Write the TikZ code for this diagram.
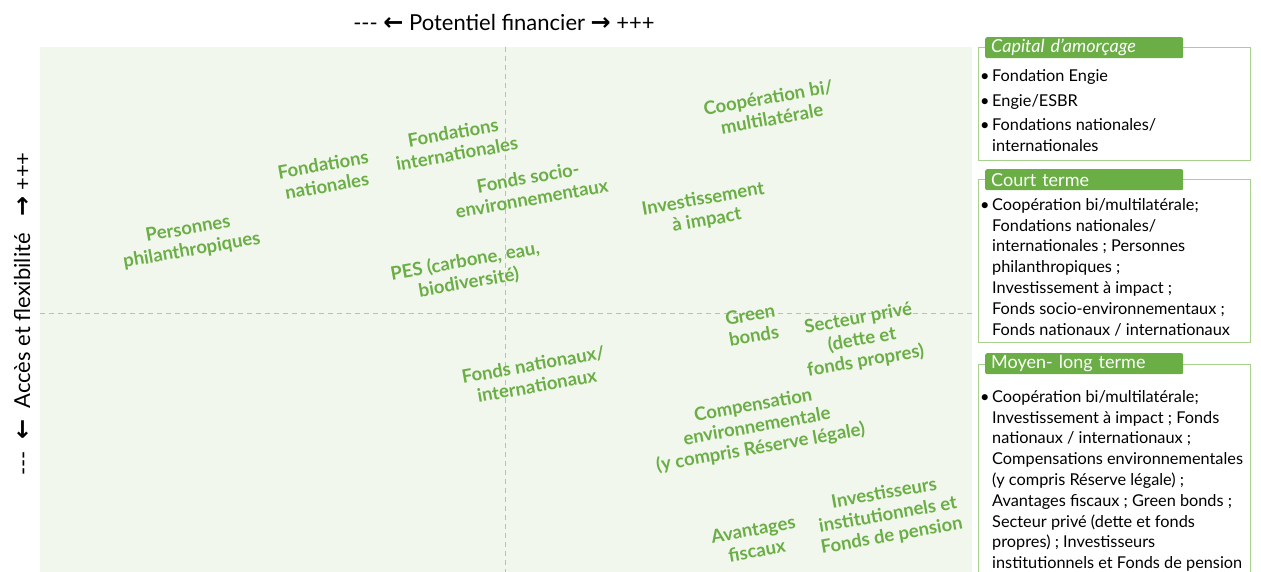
\documentclass[tikz,border=0pt]{standalone}
\usepackage{fontspec}
\setmainfont{Lato}
\newfontfamily\arrowfont{DejaVu Sans}
\usetikzlibrary{positioning}

\definecolor{plotbg}{HTML}{F2F7EE}
\definecolor{leafgreen}{HTML}{6AAE45}
\definecolor{paleline}{HTML}{A9D18E}

\newcommand{\leftarr}{{\arrowfont\bfseries\fontsize{24}{24}\selectfont ←}}
\newcommand{\rightarr}{{\arrowfont\bfseries\fontsize{24}{24}\selectfont →}}

\begin{document}
\begin{tikzpicture}[x=1pt,y=-1pt,
    source/.style={text=leafgreen, font=\bfseries\fontsize{18.5}{21.5}\selectfont,
      align=center, rotate=10, inner sep=0pt},
    axislabel/.style={font=\fontsize{22}{24}\selectfont, inner sep=0pt},
    termbox/.style={draw=paleline, line width=1pt, anchor=north west,
      minimum width=272, inner sep=0pt},
    termtab/.style={fill=leafgreen, text=white, anchor=north west,
      minimum height=21, rounded corners=2pt, text width=186,
      inner xsep=6, inner ysep=0, font=\fontsize{18}{19}\selectfont},
    termlist/.style={anchor=north west, align=left, inner sep=0pt,
      font=\fontsize{16.3}{20.8}\selectfont}]
    \useasboundingbox (0,0) rectangle (1261,572);

    \node[fill=plotbg, anchor=north west, minimum width=932, minimum height=525,
      inner sep=0pt] (plot) at (40,47) {};
    \coordinate (origin) at (505,313);
    \draw[paleline, dash pattern=on 5pt off 4pt] (origin |- plot.north) -- (origin |- plot.south);
    \draw[paleline, dash pattern=on 5pt off 4pt] (plot.west |- origin) -- (plot.east |- origin);

    \node[axislabel] (xtitle) at (504,22)
      {-{}-{}- \leftarr{} Potentiel financier \rightarr{} +++};
    \node[axislabel, rotate=90] (ytitle) at (22,314)
      {-{}-{}-\ \ \leftarr\ \ Accès et flexibilité\ \ \ \rightarr{} +++};

    \node[source] (personnes) at (190,240) {Personnes\\philanthropiques};
    \node[source] (fondnat) at (325,175) {Fondations\\nationales};
    \node[source] (fondint) at (455,143) {Fondations\\internationales};
    \node[source] (socioenv) at (530,188) {Fonds socio-\\environnementaux};
    \node[source] (coop) at (770,108) {Coopération bi/\\multilatérale};
    \node[source] (impact) at (705,210) {Investissement\\à impact};
    \node[source] (pes) at (467,272) {PES (carbone, eau,\\biodiversité)};
    \node[source] (green) at (752,325) {Green\\bonds};
    \node[source] (prive) at (862,340) {Secteur privé\\(dette et\\fonds propres)};
    \node[source] (fondsnat) at (535,375) {Fonds nationaux/\\internationaux};
    \node[source] (compens) at (757,427) {Compensation\\environnementale\\(y compris Réserve légale)};
    \node[source] (fiscaux) at (755,540) {Avantages\\fiscaux};
    \node[source] (institut) at (888,515) {Investisseurs\\institutionnels et\\Fonds de pension};

    \node[termbox, minimum height=113] (seedbox) at (978,47) {};
    \node[termtab] (seedtab) at (985,37) {\itshape Capital d’amorçage};
    \node[termlist] (seedlist) at (992,69)
      {\llap{\textbullet\,}Fondation Engie\\[4pt]
       \llap{\textbullet\,}Engie/ESBR\\[4pt]
       \llap{\textbullet\,}Fondations nationales/\\
       internationales};

    \node[termbox, minimum height=163] (shortbox) at (978,179) {};
    \node[termtab] (shorttab) at (985,169) {Court terme};
    \node[termlist] (shortlist) at (992,198)
      {\llap{\textbullet\,}Coopération bi/multilatérale;\\
       Fondations nationales/\\
       internationales ; Personnes\\
       philanthropiques ;\\
       Investissement à impact ;\\
       Fonds socio-environnementaux ;\\
       Fonds nationaux / internationaux};

    \node[termbox, minimum height=212] (longbox) at (978,364) {};
    \node[termtab] (longtab) at (985,353) {Moyen- long terme};
    \node[termlist] (longlist) at (992,390)
      {\llap{\textbullet\,}Coopération bi/multilatérale;\\
       Investissement à impact ; Fonds\\
       nationaux / internationaux ;\\
       Compensations environnementales\\
       (y compris Réserve légale) ;\\
       Avantages fiscaux ; Green bonds ;\\
       Secteur privé (dette et fonds\\
       propres) ; Investisseurs\\
       institutionnels et Fonds de pension};
\end{tikzpicture}
\end{document}
